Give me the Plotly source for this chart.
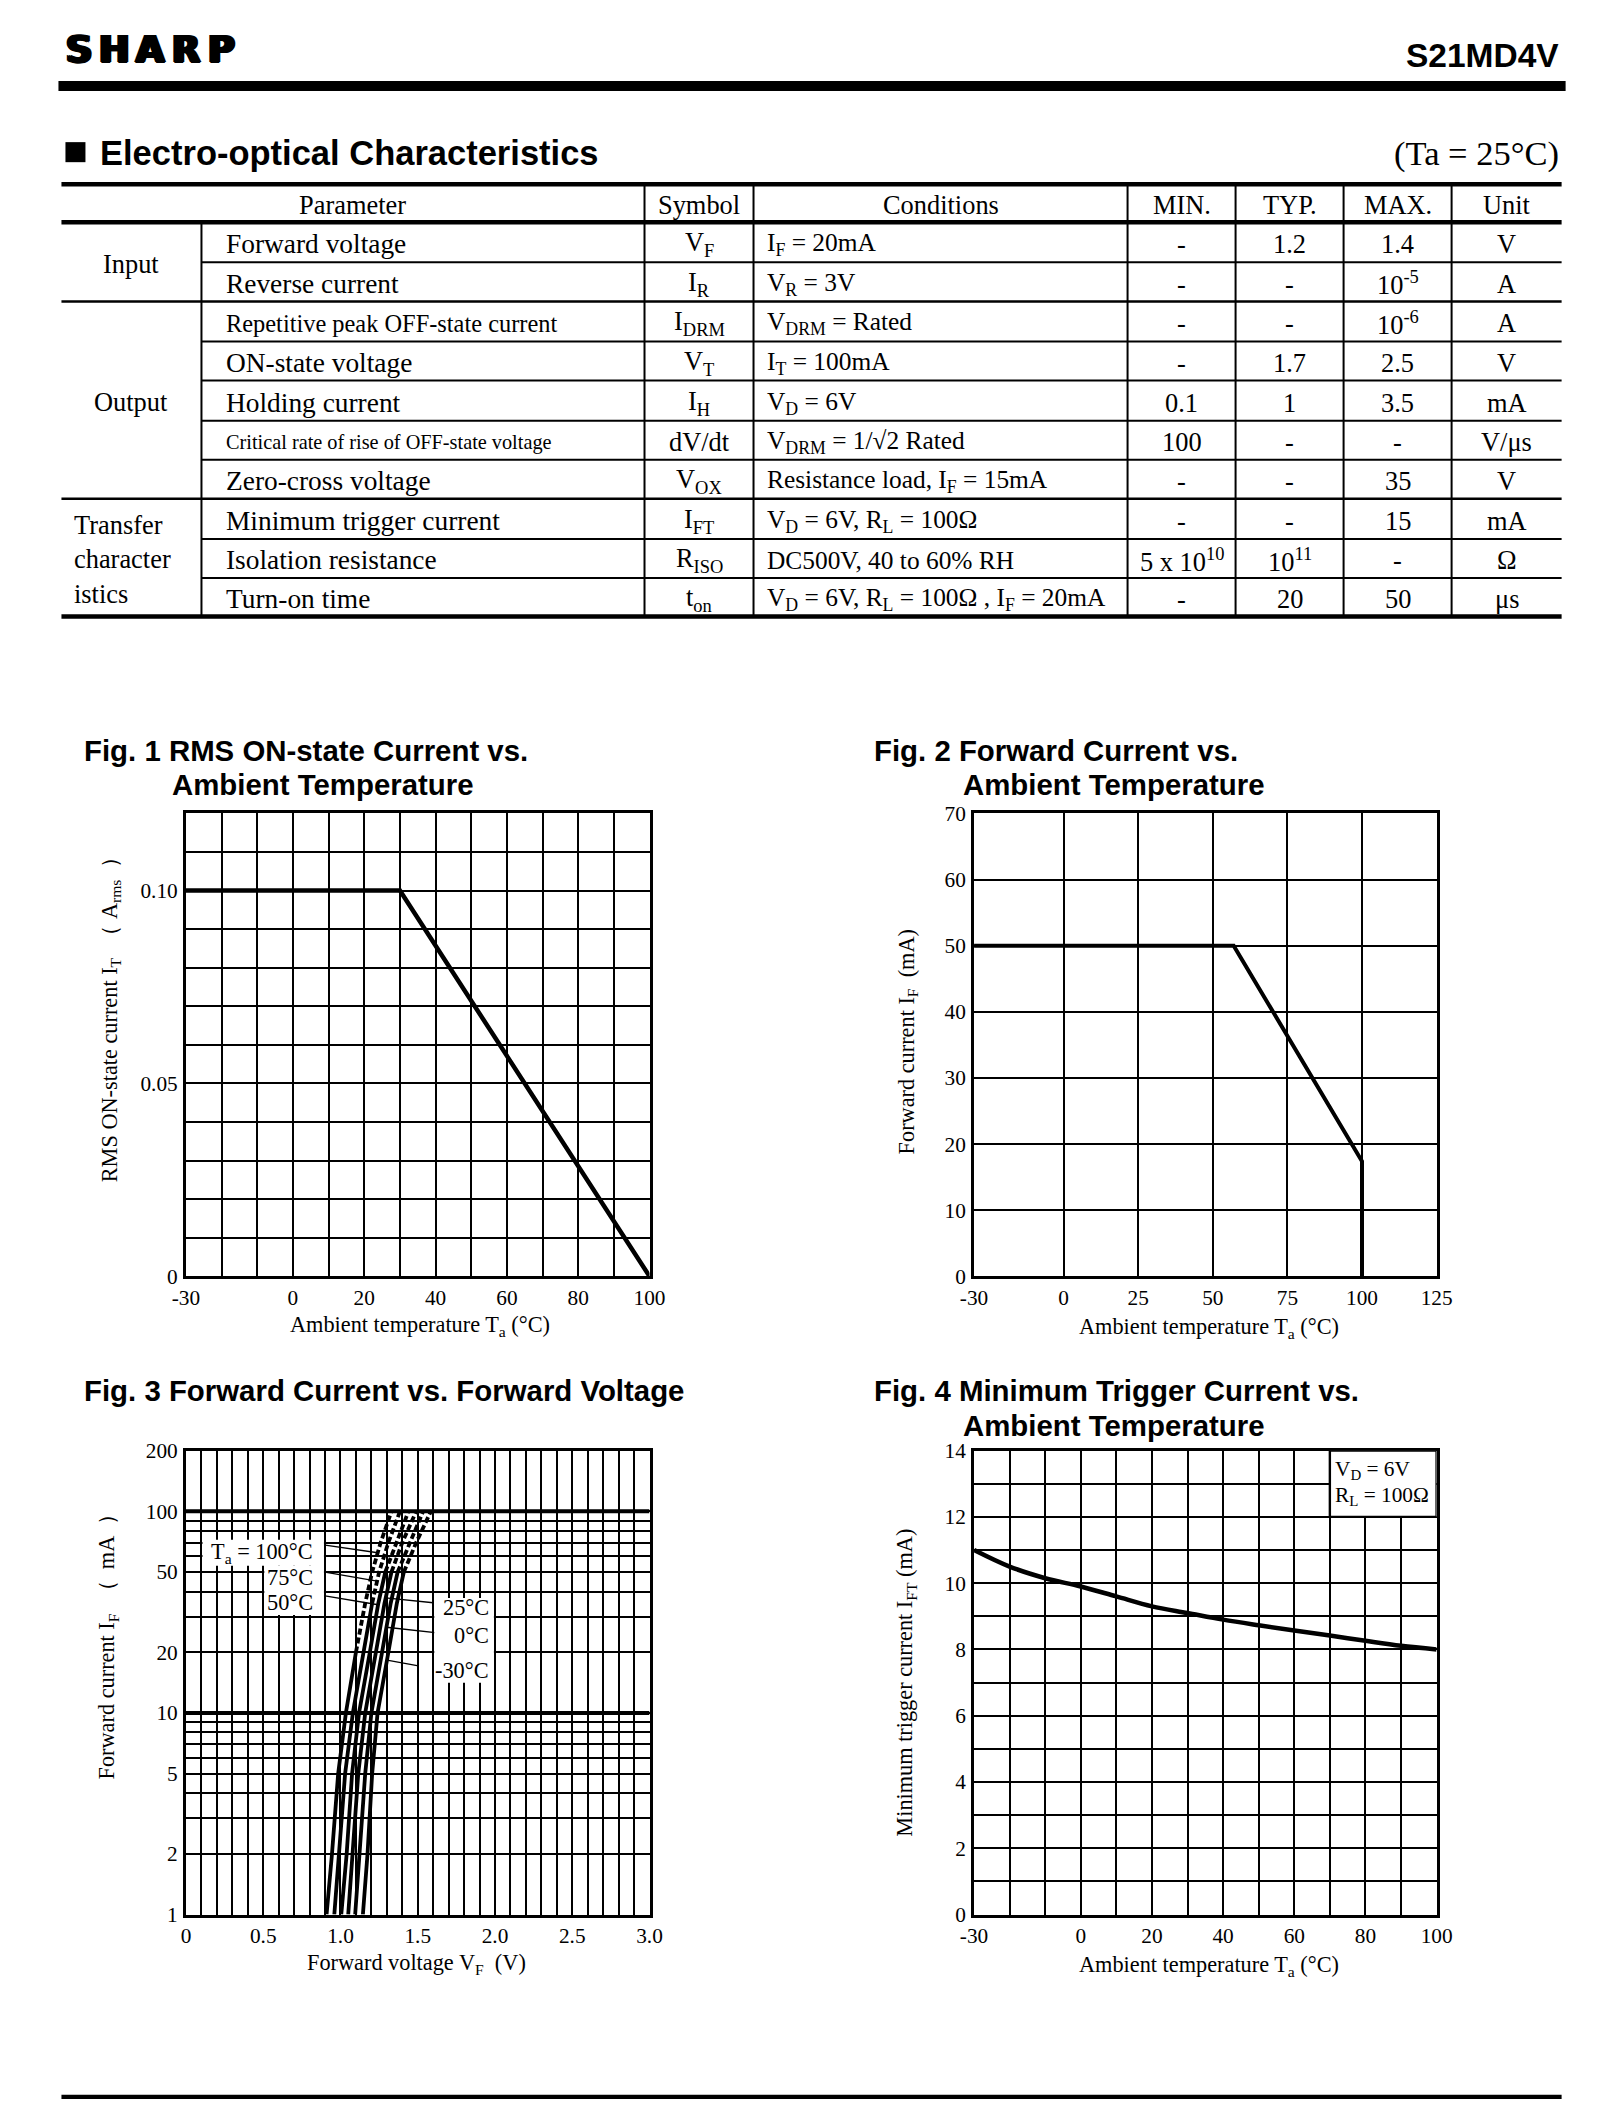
import math
import numpy as np
import plotly.graph_objects as go

W, H = 1622, 2122
OFF = 8                      # browser body margin
SX, BX = 0.9814, 12.7        # measured page->photo mapping (x)
SY, BY = 0.9868, 12.2        # measured page->photo mapping (y)
FS = 1.015                   # font compensation for that mapping
SERIF = "Liberation Serif"
SANS = "Liberation Sans"
NB = "\u00a0"

# ------------------------------------------------------------------ data
logo_letters = ["S", "H", "A", "R", "P"]
part_number = "S21MD4V"
section_title = "Electro-optical Characteristics"
section_cond = "(Ta = 25°C)"

table_header = ["Parameter", "Symbol", "Conditions", "MIN.", "TYP.", "MAX.", "Unit"]
group_names = ["Input", "Output", "Transfer<br>character<br>istics"]
group_spans = [(0, 2), (2, 7), (7, 10)]
param_names = ["Forward voltage", "Reverse current", "Repetitive peak OFF-state current",
               "ON-state voltage", "Holding current", "Critical rate of rise of OFF-state voltage",
               "Zero-cross voltage", "Minimum trigger current", "Isolation resistance", "Turn-on time"]
symbols = ["V<sub>F</sub>", "I<sub>R</sub>", "I<sub>DRM</sub>", "V<sub>T</sub>", "I<sub>H</sub>",
           "dV/dt", "V<sub>OX</sub>", "I<sub>FT</sub>", "R<sub>ISO</sub>", "t<sub>on</sub>"]
conditions = ["I<sub>F</sub> = 20mA", "V<sub>R</sub> = 3V", "V<sub>DRM</sub> = Rated",
              "I<sub>T</sub> = 100mA", "V<sub>D</sub> = 6V", "V<sub>DRM</sub> = 1/√2 Rated",
              "Resistance load, I<sub>F</sub> = 15mA", "V<sub>D</sub> = 6V, R<sub>L</sub> = 100Ω",
              "DC500V, 40 to 60% RH", "V<sub>D</sub> = 6V, R<sub>L</sub> = 100Ω , I<sub>F</sub> = 20mA"]
min_vals = ["-", "-", "-", "-", "0.1", "100", "-", "-", "5 x 10<sup>10</sup>", "-"]
typ_vals = ["1.2", "-", "-", "1.7", "1", "-", "-", "-", "10<sup>11</sup>", "20"]
max_vals = ["1.4", "10<sup>-5</sup>", "10<sup>-6</sup>", "2.5", "3.5", "-", "35", "15", "-", "50"]
units = ["V", "A", "A", "V", "mA", "V/μs", "V", "mA", "Ω", "μs"]

# Fig. 1
fig1_temp = [-30, 30, 100]
fig1_current = [0.10, 0.10, 0.0]
fig1_xticks = [-30, 0, 20, 40, 60, 80, 100]
fig1_xticktext = ["-30", "0", "20", "40", "60", "80", "100"]
fig1_yticks = [0, 0.05, 0.10]
fig1_yticktext = ["0", "0.05", "0.10"]

# Fig. 2
fig2_temp = [-30, 57, 100, 100]
fig2_current = [50, 50, 17.4, 0]
fig2_xticks = [-30, 0, 25, 50, 75, 100, 125]
fig2_xticktext = ["-30", "0", "25", "50", "75", "100", "125"]
fig2_yticks = [0, 10, 20, 30, 40, 50, 60, 70]

# Fig. 3
fig3_temps = ["100", "75", "50", "25", "0", "-30"]
fig3_current = [1, 2, 5, 10, 20, 35, 50, 70, 100]
fig3_v_100 = [0.91, 0.945, 0.985, 1.035, 1.10, 1.16, 1.205, 1.26, 1.33]
fig3_v_75 = [0.96, 0.99, 1.03, 1.08, 1.15, 1.205, 1.25, 1.31, 1.385]
fig3_v_50 = [1.005, 1.04, 1.075, 1.12, 1.19, 1.245, 1.29, 1.36, 1.44]
fig3_v_25 = [1.05, 1.08, 1.115, 1.16, 1.23, 1.285, 1.33, 1.40, 1.49]
fig3_v_0 = [1.095, 1.125, 1.16, 1.20, 1.27, 1.325, 1.37, 1.45, 1.535]
fig3_v_m30 = [1.145, 1.175, 1.205, 1.24, 1.31, 1.365, 1.41, 1.49, 1.585]
fig3_dash_from = [20, 35, 50, 50, 50, 50]
fig3_xticks = [0, 0.5, 1.0, 1.5, 2.0, 2.5, 3.0]
fig3_xticktext = ["0", "0.5", "1.0", "1.5", "2.0", "2.5", "3.0"]
fig3_yticks = [1, 2, 5, 10, 20, 50, 100, 200]
fig3_yminor = [3, 4, 6, 7, 8, 9, 30, 40, 60, 70, 80, 90]
fig3_labels = ["T<sub>a</sub> = 100°C", "75°C", "50°C", "25°C", "0°C", "-30°C"]
fig3_label_v = [0.835, 0.835, 0.835, 1.975, 1.975, 1.975]
fig3_label_i = [62.3, 46.8, 35.1, 33.2, 24.1, 16.3]
fig3_leader_v = [0.89, 0.89, 0.89, 1.60, 1.70, 1.505]
fig3_leader_i = [68.2, 50.1, 38.2, 35.2, 24.6, 17.1]
fig3_tip_i = [62.3, 45.1, 34.4, 37.2, 26.6, 18.3]

# Fig. 4
fig4_temp = [-30, -20, -10, 0, 10, 20, 30, 40, 50, 60, 70, 80, 90, 100]
fig4_ift = [11.0, 10.5, 10.15, 9.9, 9.6, 9.3, 9.1, 8.9, 8.73, 8.57, 8.42, 8.26, 8.11, 8.0]
fig4_xticks = [-30, 0, 20, 40, 60, 80, 100]
fig4_xticktext = ["-30", "0", "20", "40", "60", "80", "100"]
fig4_yticks = [0, 2, 4, 6, 8, 10, 12, 14]
fig4_note = ["V<sub>D</sub> = 6V", "R<sub>L</sub> = 100Ω"]

# axis titles
ta_title = "Ambient temperature T<sub>a</sub>" + NB + "(°C)"
fig1_ytitle = ("RMS ON-state current I<sub>T</sub>" + NB * 2 + "（" + NB + "A<sub>rms</sub>"
               + NB * 2 + "）")
fig2_ytitle = "Forward current I<sub>F</sub>" + NB * 2 + "(mA)"
fig3_xtitle = "Forward voltage V<sub>F</sub>" + NB * 2 + "(V)"
fig3_ytitle = ("Forward current I<sub>F</sub>" + NB * 2 + "（" + NB * 2 + "mA" + NB * 2 + "）")
fig4_ytitle = "Minimum trigger current I<sub>FT</sub> (mA)"

# ------------------------------------------------------------------ helpers (target pixels -> paper)
def PX(x):
    return ((x - BX) / SX - OFF) / W


def PY(y):
    return 1 - ((y - BY) / SY - OFF) / H


annotations = []
shapes = []


def fnt(size, family=SERIF, shadow=None):
    f = dict(family=family, size=round(size * FS, 1), color="black")
    if shadow:
        f["shadow"] = shadow
    return f


def text(t, x, y, size, family=SERIF, xanchor="center", yanchor="middle", angle=0,
         align="left", shadow=None):
    annotations.append(dict(text=t, x=PX(x), y=PY(y), xref="paper", yref="paper", showarrow=False,
                            xanchor=xanchor, yanchor=yanchor, textangle=angle, align=align,
                            borderpad=0, font=fnt(size, family, shadow)))


def hline(x0, x1, y, w):
    shapes.append(dict(type="line", xref="paper", yref="paper", x0=PX(x0), x1=PX(x1),
                       y0=PY(y), y1=PY(y), line=dict(color="black", width=w)))


def vline(x, y0, y1, w):
    shapes.append(dict(type="line", xref="paper", yref="paper", x0=PX(x), x1=PX(x),
                       y0=PY(y0), y1=PY(y1), line=dict(color="black", width=w)))


def rect(x0, y0, x1, y1):
    shapes.append(dict(type="rect", xref="paper", yref="paper", x0=PX(x0), x1=PX(x1),
                       y0=PY(y1), y1=PY(y0), fillcolor="black", line=dict(width=0)))


# ------------------------------------------------------------------ header
logo_centers = [78, 113.5, 149, 184.5, 220]
for ch, cx in zip(logo_letters, logo_centers):
    text("<b>%s</b>" % ch, cx, 49.5, 36, family="DejaVu Sans",
         shadow="2px 0 0 black, -2px 0 0 black, 1px 0.6px 0 black, -1px 0.6px 0 black")
text("<b>%s</b>" % part_number, 1558, 56, 33, family=SANS, xanchor="right")
rect(57, 81, 1564, 91)
rect(64, 142, 84, 162)
text("<b>%s</b>" % section_title, 98, 153, 34, family=SANS, xanchor="left")
text(section_cond, 1558, 153, 34, xanchor="right")
rect(60, 2091, 1560, 2095)

# ------------------------------------------------------------------ table
col_x = [60, 200, 643, 752, 1126, 1234, 1342, 1450, 1560]
row_y = [222, 262, 301, 341, 380, 420, 459, 498, 538, 577, 615.5]
head_top = 184
hline(60, 1560, head_top, 4.5)
hline(60, 1560, row_y[0], 4.5)
hline(60, 1560, row_y[-1], 4.5)
group_bounds = [row_y[s] for s, e in group_spans[1:]]
for yy in row_y[1:-1]:
    if yy in group_bounds:
        hline(60, 1560, yy, 2.5)
    else:
        hline(200, 1560, yy, 2)
vline(200, row_y[0], row_y[-1], 2)
for cx in col_x[2:-1]:
    vline(cx, head_top, row_y[-1], 2)

DY = 2
hy = (head_top + row_y[0]) / 2 + DY
head_centers = [(60 + 643) / 2, (643 + 752) / 2, (752 + 1126) / 2, (1126 + 1234) / 2,
                (1234 + 1342) / 2, (1342 + 1450) / 2, (1450 + 1560) / 2]
for t, cx in zip(table_header, head_centers):
    text(t, cx, hy, 26, xanchor="center")

for name, (s, e) in zip(group_names, group_spans):
    cy = (row_y[s] + row_y[e]) / 2 + DY
    if "<br>" in name:
        text(name, 72, cy, 26, xanchor="left", align="left")
    else:
        text(name, 130, cy, 26, xanchor="center")

param_sizes = [27, 27, 24, 27, 27, 20, 27, 27, 27, 27]
for i in range(10):
    cy = (row_y[i] + row_y[i + 1]) / 2 + DY
    text(param_names[i], 224, cy, param_sizes[i], xanchor="left")
    text(symbols[i], (643 + 752) / 2, cy, 26, xanchor="center")
    text(conditions[i], 764, cy, 25, xanchor="left")
    text(min_vals[i], (1126 + 1234) / 2, cy, 26, xanchor="center")
    text(typ_vals[i], (1234 + 1342) / 2, cy, 26, xanchor="center")
    text(max_vals[i], (1342 + 1450) / 2, cy, 26, xanchor="center")
    text(units[i], (1450 + 1560) / 2, cy, 26, xanchor="center")

# ------------------------------------------------------------------ figure titles / axis titles
TF = 29
text("<b>Fig. 1 RMS ON-state Current vs.</b>", 82, 749, TF, family=SANS, xanchor="left")
text("<b>Ambient Temperature</b>", 170, 783, TF, family=SANS, xanchor="left")
text("<b>Fig. 2 Forward Current vs.</b>", 871, 749, TF, family=SANS, xanchor="left")
text("<b>Ambient Temperature</b>", 960, 783, TF, family=SANS, xanchor="left")
text("<b>Fig. 3 Forward Current vs. Forward Voltage</b>", 82, 1388, TF, family=SANS, xanchor="left")
text("<b>Fig. 4 Minimum Trigger Current vs.</b>", 871, 1388, TF, family=SANS, xanchor="left")
text("<b>Ambient Temperature</b>", 960, 1423, TF, family=SANS, xanchor="left")

AT = 22
text(ta_title, 419, 1324, AT)
text(fig1_ytitle, 109, 1012, AT, angle=-90)
text(ta_title, 1207, 1326, AT)
text(fig2_ytitle, 906, 1040, AT, angle=-90)
text(fig3_xtitle, 415, 1960, AT)
text(fig3_ytitle, 107, 1638, AT, angle=-90)
text(ta_title, 1207, 1962, AT)
text(fig4_ytitle, 905, 1680, AT, angle=-90)

# ------------------------------------------------------------------ axes
dom_x_left = [PX(184.5), PX(648)]
dom_x_right = [PX(972.5), PX(1435)]
dom_y_top = [PY(1274), PY(812)]
dom_y_bot = [PY(1911), PY(1448)]

GRID = dict(showgrid=True, gridcolor="black", gridwidth=2.4)
TICKFONT = fnt(21)


def axis(domain, anchor, xdir, **kw):
    d = dict(domain=domain, anchor=anchor, showline=True, linecolor="black", linewidth=3,
             mirror=True, zeroline=False, ticks="", fixedrange=True, tickfont=TICKFONT,
             ticklabelstandoff=(0 if xdir else 1), **GRID)
    d.update(kw)
    return d


layout_axes = dict(
    xaxis=axis(dom_x_left, "y", True, range=[-30, 100], tickmode="array", tickvals=fig1_xticks,
               ticktext=fig1_xticktext,
               minor=dict(tickmode="linear", tick0=-30, dtick=10, **GRID)),
    yaxis=axis(dom_y_top, "x", False, range=[0, 0.12], tickmode="array", tickvals=fig1_yticks,
               ticktext=fig1_yticktext,
               minor=dict(tickmode="linear", tick0=0, dtick=0.01, **GRID)),
    xaxis2=axis(dom_x_right, "y2", True, range=[-30, 125], tickmode="array", tickvals=fig2_xticks,
                ticktext=fig2_xticktext),
    yaxis2=axis(dom_y_top, "x2", False, range=[0, 70], tickmode="array", tickvals=fig2_yticks,
                ticktext=[str(v) for v in fig2_yticks]),
    xaxis3=axis(dom_x_left, "y3", True, range=[0, 3.0], tickmode="array", tickvals=fig3_xticks,
                ticktext=fig3_xticktext,
                minor=dict(tickmode="linear", tick0=0, dtick=0.1, **GRID)),
    yaxis3=axis(dom_y_bot, "x3", False, type="log", range=[0, math.log10(200)], tickmode="array",
                tickvals=fig3_yticks, ticktext=[str(v) for v in fig3_yticks],
                minor=dict(tickmode="array", tickvals=fig3_yminor, **GRID)),
    xaxis4=axis(dom_x_right, "y4", True, range=[-30, 100], tickmode="array", tickvals=fig4_xticks,
                ticktext=fig4_xticktext,
                minor=dict(tickmode="linear", tick0=-30, dtick=10, **GRID)),
    yaxis4=axis(dom_y_bot, "x4", False, range=[0, 14], tickmode="array", tickvals=fig4_yticks,
                ticktext=[str(v) for v in fig4_yticks],
                minor=dict(tickmode="linear", tick0=0, dtick=1, **GRID)),
)

# ------------------------------------------------------------------ traces
fig = go.Figure()
fig.add_trace(go.Scatter(x=fig1_temp, y=fig1_current, mode="lines", xaxis="x", yaxis="y",
                         line=dict(color="black", width=4.5), cliponaxis=False))
fig.add_trace(go.Scatter(x=fig2_temp, y=fig2_current, mode="lines", xaxis="x2", yaxis="y2",
                         line=dict(color="black", width=4), cliponaxis=False))

fig3_volts = [fig3_v_100, fig3_v_75, fig3_v_50, fig3_v_25, fig3_v_0, fig3_v_m30]
logI = np.log10(fig3_current)
for volts, lim in zip(fig3_volts, fig3_dash_from):
    k = fig3_current.index(lim)
    fig.add_trace(go.Scatter(x=volts[:k + 1], y=fig3_current[:k + 1], mode="lines",
                             xaxis="x3", yaxis="y3", line=dict(color="black", width=3.8)))
    fig.add_trace(go.Scatter(x=volts[k:], y=fig3_current[k:], mode="lines",
                             xaxis="x3", yaxis="y3",
                             line=dict(color="black", width=3.8, dash="6px,3px")))

for volts, lv, li, ti in zip(fig3_volts, fig3_leader_v, fig3_leader_i, fig3_tip_i):
    tv = float(np.interp(math.log10(ti), logI, volts))
    fig.add_trace(go.Scatter(x=[lv, tv], y=[li, ti], mode="lines", xaxis="x3", yaxis="y3",
                             line=dict(color="black", width=1.3)))

fig.add_trace(go.Scatter(x=fig4_temp, y=fig4_ift, mode="lines", xaxis="x4", yaxis="y4",
                         line=dict(color="black", width=4.5, shape="spline"), cliponaxis=False))

# Fig.3 decade lines and white label boxes
for dec in [10, 100]:
    shapes.append(dict(type="line", xref="x3", yref="y3", x0=0, x1=3.0, y0=dec, y1=dec,
                       layer="below", line=dict(color="black", width=4)))
fig3_boxes = [(0.107, 0.893, 53.7, 72.3), (0.507, 0.893, 30.6, 53.7), (1.607, 1.993, 14.1, 37.2)]
for x0, x1, y0, y1 in fig3_boxes:
    shapes.append(dict(type="rect", xref="x3", yref="y3", x0=x0, x1=x1, y0=y0, y1=y1,
                       layer="above", fillcolor="white", line=dict(width=0)))
for lab, lv, li in zip(fig3_labels, fig3_label_v, fig3_label_i):
    annotations.append(dict(text=lab, x=lv, y=math.log10(li), xref="x3", yref="y3",
                            showarrow=False, xanchor="right", yanchor="middle", font=fnt(22)))

# Fig.4 condition box
shapes.append(dict(type="rect", xref="x4", yref="y4", x0=70, x1=100, y0=12, y1=14,
                   layer="above", fillcolor="white", line=dict(color="black", width=2.4)))
for t, yv in zip(fig4_note, [13.43, 12.64]):
    annotations.append(dict(text=t, x=70.8, y=yv, xref="x4", yref="y4", showarrow=False,
                            xanchor="left", yanchor="middle", font=fnt(21)))

fig.update_layout(width=W, height=H, margin=dict(l=0, r=0, t=0, b=0), autosize=False,
                  paper_bgcolor="white", plot_bgcolor="white", showlegend=False,
                  annotations=annotations, shapes=shapes, **layout_axes)

fig.write_html("out.html", config={"displayModeBar": False})
